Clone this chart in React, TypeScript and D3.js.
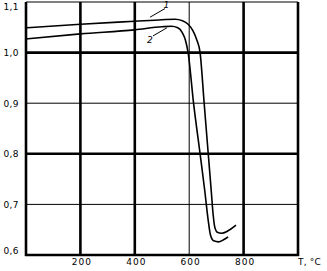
import React from "react";
import * as d3 from "d3";

const W = 327;
const H = 271;

const xTicks = [200, 400, 600, 800];
const xThickGrid = [200, 400, 800, 1000];
const xThinGrid = [600];
const yTicks = [0.6, 0.7, 0.8, 0.9, 1.0, 1.1];
const yThickGrid = [0.6, 0.8, 1.0];
const yThinGrid = [0.7, 0.9, 1.1];
const yTickLabels = ["0,6", "0,7", "0,8", "0,9", "1,0", "1,1"];
const xUnit = "T, °C";

// Curve 1 (upper)
const curve1T = [0, 200, 400, 500, 548, 575, 596, 614, 628, 640, 655, 670, 681, 688, 694, 703, 720, 740, 772];
const curve1V = [1.049, 1.056, 1.062, 1.065, 1.066, 1.063, 1.056, 1.043, 1.025, 1.0, 0.9, 0.8, 0.727, 0.68, 0.655, 0.645, 0.643, 0.647, 0.659];
// Curve 2 (lower)
const curve2T = [0, 200, 400, 500, 535, 558, 574, 586, 596, 616, 640, 657, 670, 678, 690, 708, 726, 743];
const curve2V = [1.027, 1.037, 1.045, 1.051, 1.052, 1.049, 1.04, 1.025, 1.0, 0.9, 0.8, 0.728, 0.668, 0.64, 0.628, 0.626, 0.63, 0.636];

// annotations: label position and leader line (data units)
const labels = ["1", "2"];
const labelT = [509, 455];
const labelV = [1.088, 1.018];
const leaderFromT = [511, 467];
const leaderFromV = [1.087, 1.033];
const leaderToT = [456, 518];
const leaderToV = [1.07, 1.049];

export default function App() {
  const x = d3.scaleLinear().domain([0, 1000]).range([26, 298]);
  const y = d3.scaleLinear().domain([0.6, 1.1]).range([255, 2]);
  const line = d3
    .line<[number, number]>()
    .x((d) => x(d[0]))
    .y((d) => y(d[1]))
    .curve(d3.curveMonotoneX);
  const c1 = curve1T.map((t, i) => [t, curve1V[i]] as [number, number]);
  const c2 = curve2T.map((t, i) => [t, curve2V[i]] as [number, number]);
  const font = "'DejaVu Sans', sans-serif";

  return (
    <svg
      width={W}
      height={H}
      style={{ position: "fixed", left: 0, top: 0, background: "#fff" }}
    >
      <rect x={0} y={0} width={W} height={H} fill="#fff" />
      {yThinGrid.map((v) => (
        <line key={"yt" + v} x1={x(0)} x2={x(1000)} y1={y(v)} y2={y(v)} stroke="#000" strokeWidth={1} />
      ))}
      {xThinGrid.map((t) => (
        <line key={"xt" + t} x1={x(t)} x2={x(t)} y1={y(1.1)} y2={y(0.6)} stroke="#000" strokeWidth={1} />
      ))}
      {yThickGrid.map((v) => (
        <line key={"yk" + v} x1={x(0) - 1} x2={x(1000) + 1} y1={y(v)} y2={y(v)} stroke="#000" strokeWidth={2.6} />
      ))}
      {xThickGrid.map((t) => (
        <line key={"xk" + t} x1={x(t)} x2={x(t)} y1={y(1.1)} y2={y(0.6) + 1} stroke="#000" strokeWidth={2.6} />
      ))}
      <line x1={x(0)} x2={x(0)} y1={y(1.1)} y2={y(0.6) + 1} stroke="#000" strokeWidth={2.6} />

      <path d={line(c1) || ""} fill="none" stroke="#000" strokeWidth={1.6} />
      <path d={line(c2) || ""} fill="none" stroke="#000" strokeWidth={1.6} />

      {labels.map((l, i) => (
        <g key={"lab" + l}>
          <line
            x1={x(leaderFromT[i])}
            y1={y(leaderFromV[i])}
            x2={x(leaderToT[i])}
            y2={y(leaderToV[i])}
            stroke="#000"
            strokeWidth={1}
          />
          <text
            x={x(labelT[i]) + (i === 0 ? 2 : 0)}
            y={y(labelV[i])}
            fontFamily={font}
            fontSize={9}
            fontStyle="italic"
            fill="#000"
            textAnchor="middle"
          >
            {l}
          </text>
        </g>
      ))}

      {yTicks.map((v, i) => (
        <text
          key={"yl" + v}
          x={19}
          y={v === 1.1 ? 10 : v === 0.6 ? y(v) - 1 : y(v) + 3.5}
          fontFamily={font}
          fontSize={9}
          letterSpacing={0.4}
          textAnchor="end"
          fill="#000"
        >
          {yTickLabels[i]}
        </text>
      ))}
      {xTicks.map((t) => (
        <text
          key={"xl" + t}
          x={x(t) + 1.5}
          y={265}
          fontFamily={font}
          fontSize={9}
          letterSpacing={1}
          textAnchor="middle"
          fill="#000"
        >
          {String(t)}
        </text>
      ))}
      <text x={298} y={265} fontFamily={font} fontSize={9} letterSpacing={0.2} fill="#000">
        {xUnit}
      </text>
    </svg>
  );
}
